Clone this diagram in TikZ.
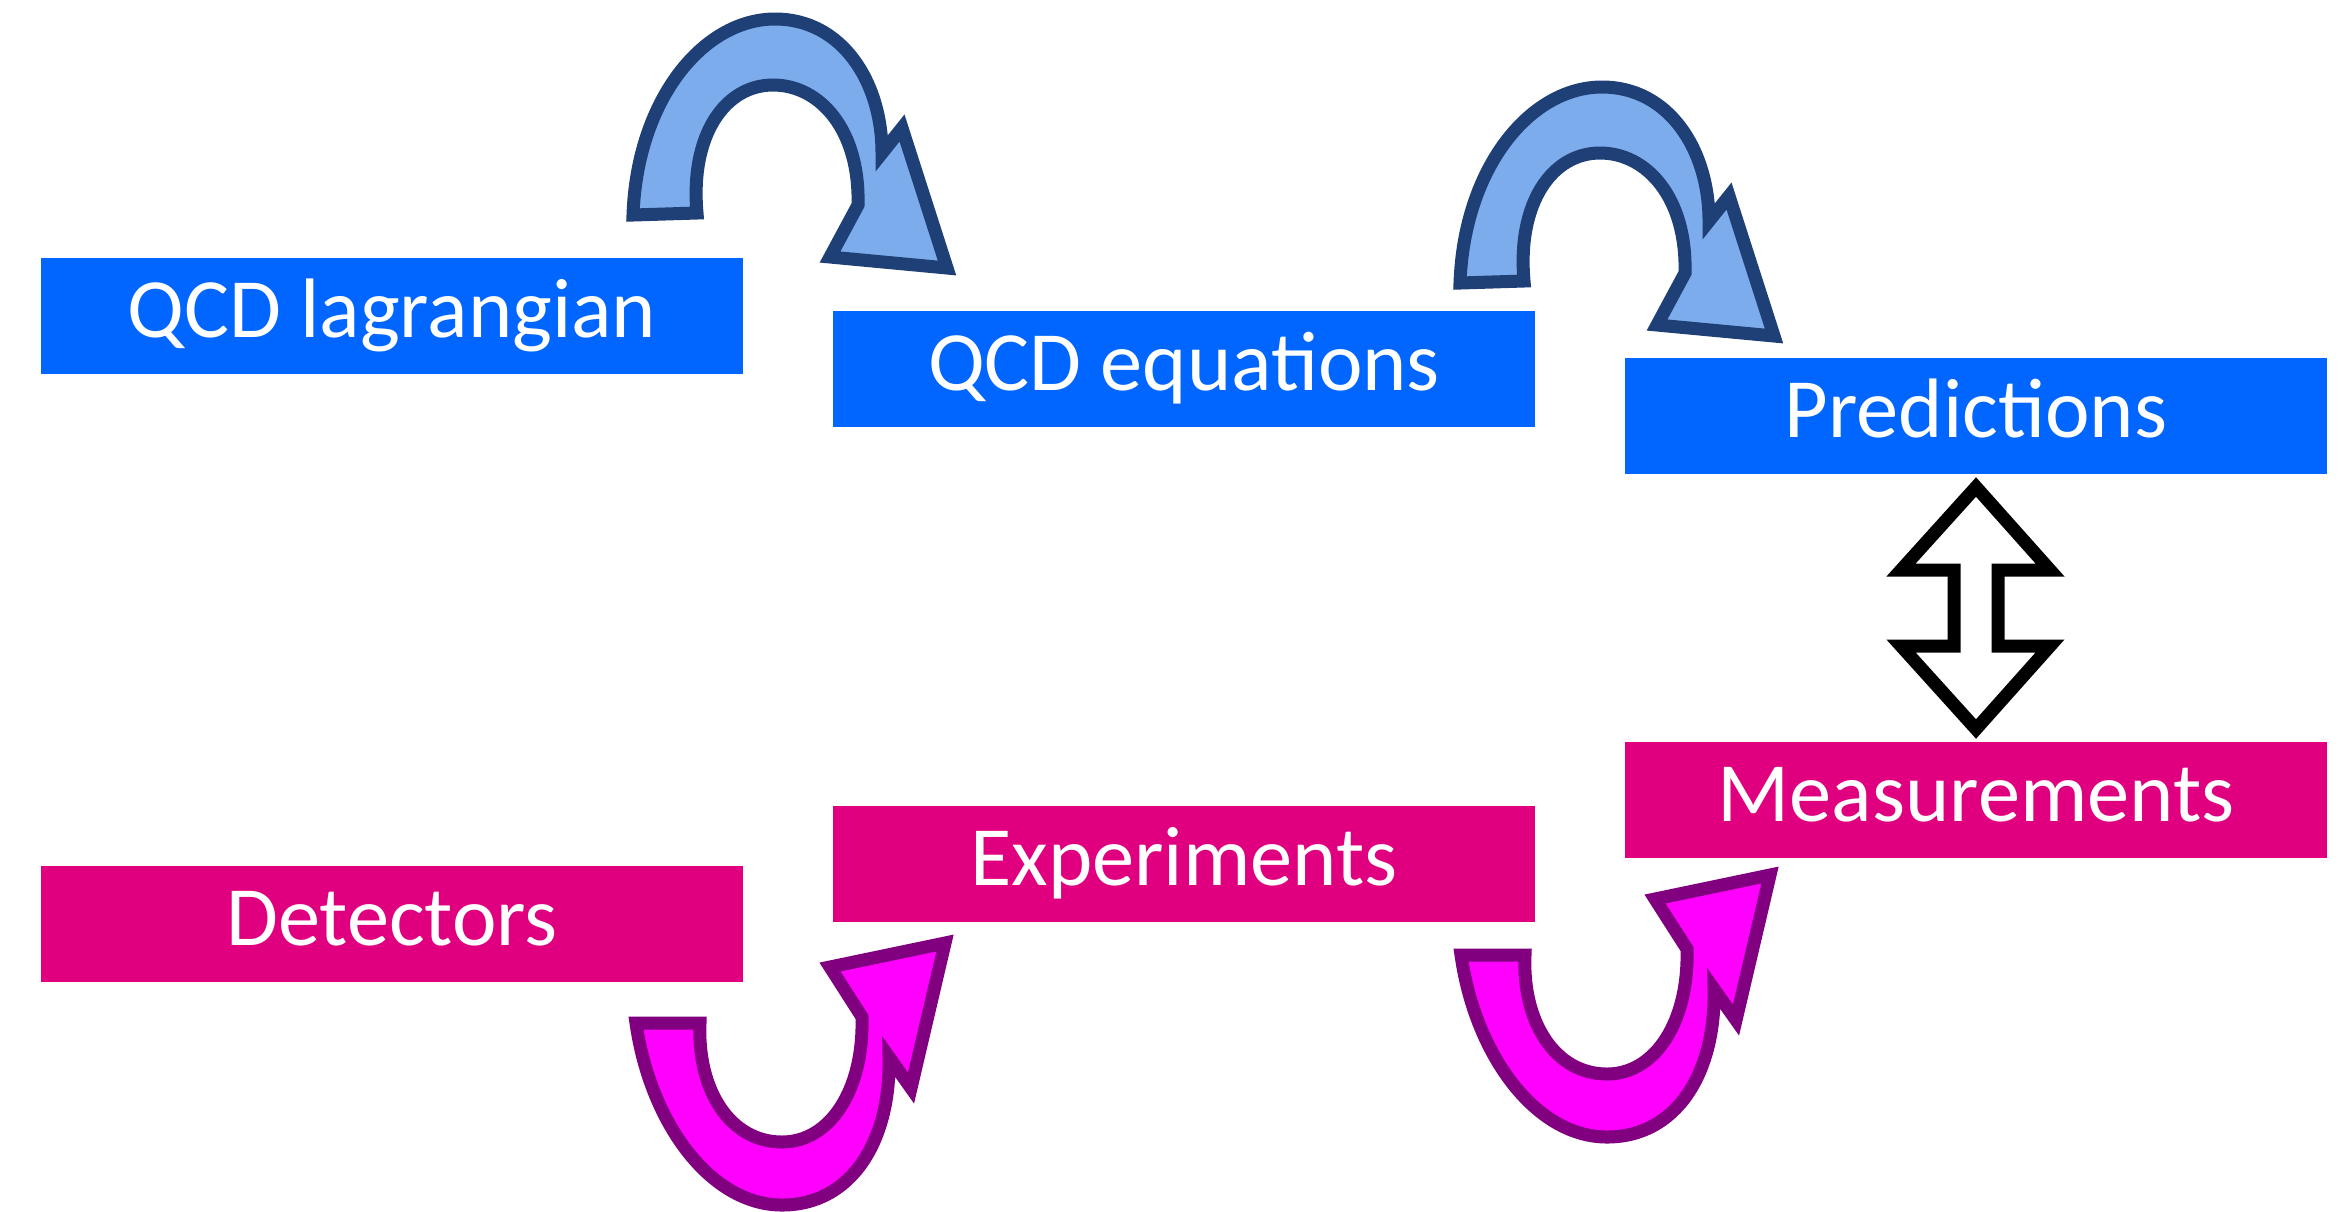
\documentclass[tikz,border=0pt]{standalone}
\usepackage{fontspec}
\setmainfont{Carlito}
\definecolor{boxblue}{RGB}{0,102,255}
\definecolor{boxmag}{RGB}{224,0,127}
\definecolor{arrblue}{RGB}{124,172,236}
\definecolor{arrbluedk}{RGB}{31,63,119}
\definecolor{arrmag}{RGB}{255,0,255}
\definecolor{arrmagdk}{RGB}{128,0,128}
\tikzset{
  box/.style={rectangle, minimum width=7.02cm, minimum height=1.16cm, inner sep=0pt,
    text height=0.79cm, text depth=0.37cm, text=white, font=\fontsize{24}{28}\selectfont},
  bluebox/.style={box, fill=boxblue},
  magbox/.style={box, fill=boxmag},
  bluearrow/.style={fill=arrblue, draw=arrbluedk, line width=0.13cm, line join=miter},
  magarrow/.style={fill=arrmag, draw=arrmagdk, line width=0.13cm, line join=miter},
  dblarrow/.style={fill=white, draw=black, line width=0.13cm, line join=miter},
  bluecurl/.pic={
    \path[bluearrow] (633,215) .. controls (637,100) and (703,19) .. (775,19)
      .. controls (842,19) and (882,82) .. (882,153) -- (902,128) -- (947,268)
      -- (830,257) -- (858,205) .. controls (860,130) and (820,85) .. (773,85)
      .. controls (725,85) and (690,135) .. (697,213) -- cycle;
  },
  magcurl/.pic={
    \path[magarrow] (636,1023) .. controls (650,1122) and (710,1205) .. (782,1205)
      .. controls (852,1205) and (891,1140) .. (889,1057) -- (911,1088) -- (945,943)
      -- (830,967) -- (862,1017) .. controls (864,1090) and (830,1142) .. (782,1142)
      .. controls (730,1142) and (697,1090) .. (700,1023) -- cycle;
  }
}
\begin{document}
\begin{tikzpicture}[x=0.01cm,y=-0.01cm]
\useasboundingbox (0,0) rectangle (2346,1211);

\node[bluebox] (lag)  at (392,316)  {QCD lagrangian};
\node[bluebox] (eqs)  at (1184,369) {QCD equations};
\node[bluebox] (pred) at (1976,416) {Predictions};
\node[magbox]  (meas) at (1976,800) {Measurements};
\node[magbox]  (exp)  at (1184,864) {Experiments};
\node[magbox]  (det)  at (392,924)  {Detectors};

\pic at (0,0) {bluecurl};
\pic at (827,68) {bluecurl};
\pic at (0,0) {magcurl};
\pic at (825,-68) {magcurl};

\path[dblarrow] (1976,487) -- (2050,570) -- (1998,570) -- (1998,646) -- (2050,646)
  -- (1976,729) -- (1901,646) -- (1954,646) -- (1954,570) -- (1901,570) -- cycle;
\end{tikzpicture}
\end{document}
